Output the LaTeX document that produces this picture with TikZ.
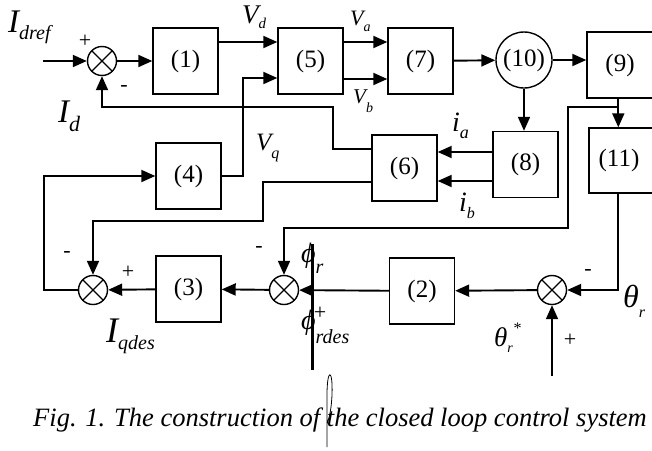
\documentclass[tikz,border=0pt]{standalone}
\usepackage{fontspec}
\setmainfont{Liberation Serif}
\usepackage{tikz}
\usetikzlibrary{arrows.meta, positioning, calc}
\newcommand{\lsub}[3]{\raisebox{#2pt}{\fontsize{#1}{#1}\selectfont #3}}
\tikzset{
    blk/.style={draw=black, line width=1.4pt, minimum width=65pt, minimum height=66pt, inner sep=0pt, font=\fontsize{25}{25}\selectfont},
    sumNode/.style={circle, draw=black, line width=1.4pt, minimum size=29pt, inner sep=0pt,
        path picture={\draw[line width=1.2pt] (path picture bounding box.north west)--(path picture bounding box.south east)
        (path picture bounding box.north east)--(path picture bounding box.south west);}},
    wire/.style={line width=1.9pt},
    sig/.style={wire, -{Triangle[length=14pt, width=12pt]}},
    sgn/.style={font=\fontsize{22}{22}\selectfont, inner sep=0pt},
    varLbl/.style={inner sep=0pt, anchor=base west}
}

\begin{document}
\begin{tikzpicture}[x=1pt, y=-1pt]
    \useasboundingbox (0,0) rectangle (652,450);
    % --- Top row ---
    \node[sumNode] (s1) at (102,61) {};
    \node[blk] (b1) at (185.5,61) {(1)};
    \node[blk] (b5) at (310.5,61) {(5)};
    \node[blk] (b7) at (420.5,61) {(7)};
    \node[circle, draw=black, line width=1.4pt, minimum size=56pt, inner sep=0pt, font=\fontsize{25}{25}\selectfont] (c10) at (524,60) {(10)};
    \node[blk, minimum width=72pt] (b9) at (623,65) {\hspace*{-6pt}(9)};
    % --- Middle row ---
    \node[blk] (b4) at (188.5,176) {(4)};
    \node[blk] (b6) at (404.5,168) {(6)};
    \node[blk] (b8) at (525.5,164.5) {(8)};
    \node[blk, minimum width=72pt, minimum height=65pt] (b11) at (625,160.5) {\hspace*{-12pt}(11)};
    % --- Bottom row ---
    \node[sumNode] (sq) at (93,290) {};
    \node[blk] (b3) at (188.5,289) {(3)};
    \node[sumNode] (sphi) at (284,290) {};
    \node[blk] (b2) at (422,291) {(2)};
    \node[sumNode] (sth) at (552,290) {};
    \coordinate (inD) at (43,61);
    \coordinate (inTh) at (552,376);
    \coordinate (t9) at ($(b9.south west)+(32,0)$);

    % --- Forward path ---
    \draw[sig] (inD) -- (s1);
    \draw[sig] (s1) -- (b1);
    \draw[sig] (b1.east |- 0,42) -- (b5.west |- 0,42);
    \draw[sig] (b5.east |- 0,42) -- (b7.west |- 0,42);
    \draw[sig] (b5.east |- 0,79) -- (b7.west |- 0,79);
    \draw[sig] (b7) -- (c10);
    \draw[sig] (c10) -- (c10 -| b9.west);
    \draw[sig] (c10.south) -- (c10.south |- b8.north);
    \draw[sig] (t9) -- (t9 |- b11.north);
    \draw[sig] (b8.west |- 0,152) -- (b6.east |- 0,152);
    \draw[sig] (b8.west |- 0,181) -- (b6.east |- 0,181);
    % --- Feedback paths ---
    \draw[sig] (b6.west |- 0,149) -- (333,149) -- (333,107) -| (s1.south);
    \draw[sig] (b6.west |- 0,182) -- (263,182) -- (263,221) -| (sq.north);
    \draw[sig] (sq.west) -- (44,290) |- (b4.west);
    \draw[sig] (b4.east) -- (243,176) |- (b5.west |- 0,78);
    \draw[sig] (b3) -- (sq);
    \draw[sig] (sphi) -- (b3);
    \draw[sig] (b2) -- (sphi);
    \draw[sig] (sth) -- (b2);
    \draw[sig] (t9 |- 0,107) -- (568,107) -- (568,228) -| (sphi.north);
    \draw[sig] (t9 |- b11.south) |- (sth);
    \draw[sig] (inTh) -- (sth);

    % --- Signal labels ---
    \node[varLbl, font=\fontsize{33}{33}\selectfont\itshape] (lIdref) at (8,32) {I\lsub{20}{-7}{dref}};
    \node[varLbl, font=\fontsize{33}{33}\selectfont\itshape] (lId) at (58,122) {I\lsub{22}{-9}{d}};
    \node[varLbl, font=\fontsize{27}{27}\selectfont\itshape] (lVd) at (242,23) {V\lsub{15}{-5}{d}};
    \node[varLbl, font=\fontsize{22}{22}\selectfont\itshape] (lVa) at (350,25) {V\lsub{14}{-6}{a}};
    \node[varLbl, font=\fontsize{21}{21}\selectfont\itshape] (lVb) at (353,103) {V\lsub{14}{-9}{b}};
    \node[varLbl, font=\fontsize{25}{25}\selectfont\itshape] (lVq) at (256,150) {V\lsub{16}{-8}{q}};
    \node[varLbl, font=\fontsize{28}{28}\selectfont\itshape] (lia) at (452,131) {i\lsub{18}{-7}{a}};
    \node[varLbl, font=\fontsize{28}{28}\selectfont\itshape] (lib) at (459,211) {i\lsub{16}{-7}{b}};
    \node[varLbl, font=\fontsize{28}{28}\selectfont\itshape] (lphr) at (301,262) {ϕ\lsub{20}{-11}{r}};
    \node[varLbl, font=\fontsize{28}{28}\selectfont\itshape] (lphd) at (301,329) {ϕ\lsub{20}{-14}{rdes}};
    \node[varLbl, font=\fontsize{32}{32}\selectfont\itshape] (lthr) at (623,307) {θ\lsub{16}{-10}{r}};
    \node[varLbl, font=\fontsize{27}{27}\selectfont\itshape] (lths) at (494,346) {θ\lsub{14}{-6}{r}\lsub{16}{13}{*}};
    \node[varLbl, font=\fontsize{36}{36}\selectfont\itshape] (lIq) at (106,342) {I\lsub{20}{-7}{qdes}};

    % --- Signs ---
    \node[sgn] at (85,41) {+};
    \node[sgn] at (124,88) {-};
    \node[sgn] at (67,254) {-};
    \node[sgn] at (128,272) {+};
    \node[sgn] at (259,249) {-};
    \node[sgn] at (320,313) {+};
    \node[sgn] at (588,272) {-};
    \node[sgn] at (570,340) {+};

    % --- Stray strokes ---
    \draw[line width=3pt] (312,244) -- (312,370);
    \draw[line width=0.8pt] (327,447) -- (327,395) .. controls (327,368) and (333,368) .. (332,395) .. controls (331,415) and (328,420) .. (327,424);

    % --- Caption ---
    \node[inner sep=0pt, anchor=base, font=\fontsize{26.5}{26.5}\selectfont\itshape] (cap) at (340,426) {Fig. 1. The construction of the closed loop control system};
\end{tikzpicture}
\end{document}
